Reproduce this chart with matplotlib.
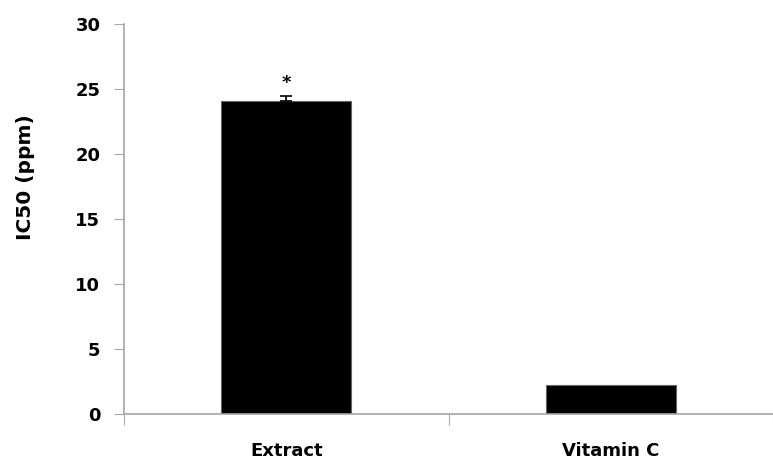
import matplotlib.pyplot as plt

groups = ['Extract', 'Vitamin C']
ic50 = [24.05, 2.25]
err = [0.4, 0.0]
marks = ['*', '']

fig = plt.figure(figsize=(7.73, 4.61), dpi=100)
ax = fig.add_axes([124 / 773, 47 / 461, 649 / 773, 390 / 461])

gray = '#a6a6a6'
ax.bar(range(len(groups)), ic50, width=0.4, color='black', edgecolor='#666666', linewidth=0.8)
for i, e in enumerate(err):
    if e > 0:
        ax.errorbar(i, ic50[i], yerr=[[0], [e]], fmt='none', ecolor='black',
                    elinewidth=1.2, capsize=4, capthick=1.2)
for i, m in enumerate(marks):
    if m:
        ax.text(i, ic50[i] + err[i] + 0.3, m, ha='center', va='bottom', fontsize=13, fontweight='bold')

ax.set_xlim(-0.5, -0.5 + 649 / 329)
ax.set_ylim(0, 30)
ax.set_yticks(range(0, 31, 5))
ax.set_xticks([-0.5, 0.5, 1.5])
ax.set_xticklabels([])
ax.set_xticks(range(len(groups)), minor=True)
ax.set_xticklabels(groups, minor=True, fontsize=13, fontweight='bold')
ax.tick_params(axis='x', which='minor', length=0, pad=20)
ax.tick_params(axis='x', which='major', length=8, color=gray)
ax.tick_params(axis='y', length=7, color=gray, labelsize=13, pad=10)
for lab in ax.get_yticklabels():
    lab.set_fontweight('bold')
for s in ['top', 'right']:
    ax.spines[s].set_visible(False)
for s in ['left', 'bottom']:
    ax.spines[s].set_color(gray)
    ax.spines[s].set_linewidth(1.2)
ax.set_ylabel('IC50 (ppm)', fontsize=14.5, fontweight='bold')
ax.yaxis.set_label_coords(-89 / 649, 237 / 390)

fig.savefig('out.png', dpi=100)
